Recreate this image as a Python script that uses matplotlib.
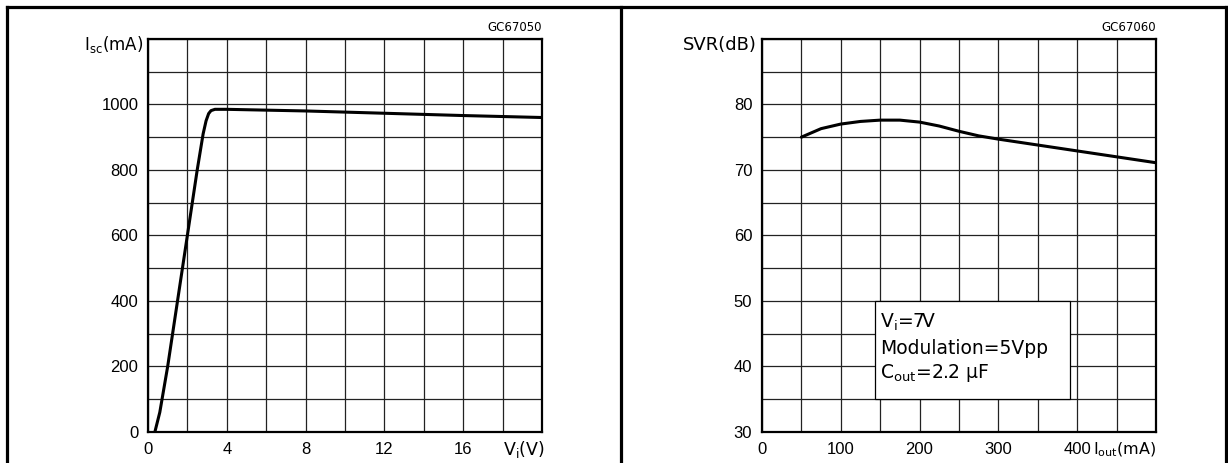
import matplotlib
matplotlib.use('Agg')
import matplotlib.pyplot as plt
from matplotlib.lines import Line2D
from matplotlib.patches import Rectangle

plt.rcParams['font.family'] = ['DejaVu Sans']
plt.rcParams['mathtext.default'] = 'regular'

# left chart: short circuit current vs input voltage
vi = [0.35, 0.6, 1.0, 1.5, 2.0, 2.5, 2.8, 2.95, 3.08, 3.2, 3.4, 4, 8, 12, 16, 20]
isc = [0, 60, 200, 400, 600, 800, 910, 950, 972, 981, 985, 985, 980, 973, 966, 960]
vi_ticks = [0, 4, 8, 12, 16]
isc_ticks = [0, 200, 400, 600, 800, 1000]

# right chart: SVR vs output current
iout = [50, 75, 100, 125, 150, 175, 200, 225, 250, 275, 300, 350, 400, 450, 500]
svr = [75.0, 76.3, 77.0, 77.4, 77.6, 77.6, 77.3, 76.7, 75.9, 75.2, 74.7, 73.8, 72.9, 72.0, 71.1]
iout_ticks = [0, 100, 200, 300, 400]
svr_ticks = [30, 40, 50, 60, 70, 80]

fig = plt.figure(figsize=(12.28, 4.63), dpi=100)

def setup(ax, xmax, xstep, xlabels, ymin, ymax, ystep, ylabels):
	xs = [i * xstep for i in range(int(round(xmax / xstep)) + 1)]
	ys = [ymin + i * ystep for i in range(int(round((ymax - ymin) / ystep)) + 1)]
	ax.set_xlim(0, xmax)
	ax.set_ylim(ymin, ymax)
	ax.set_xticks(xs)
	ax.set_xticklabels([str(v) if v in xlabels else '' for v in xs])
	ax.set_yticks(ys)
	ax.set_yticklabels([str(v) if v in ylabels else '' for v in ys])
	ax.tick_params(length=0, labelsize=12, pad=7)
	for lab in ax.get_xticklabels() + ax.get_yticklabels():
		lab.set_family('Liberation Sans')
	ax.grid(True, color='#222222', linewidth=0.9)
	for s in ax.spines.values():
		s.set_linewidth(1.6)

ax1 = fig.add_axes([0.1205, 0.067, 0.3208, 0.849])
setup(ax1, 20, 2, vi_ticks, 0, 1200, 100, isc_ticks)
ax1.plot(vi, isc, color='black', linewidth=2.2, solid_capstyle='round', solid_joinstyle='round')
ax1.text(-0.012, 0.985, 'I$_{sc}$(mA)', transform=ax1.transAxes, ha='right', va='center', fontsize=12)
ax1.text(1.0, 1.012, 'GC67050', transform=ax1.transAxes, ha='right', va='bottom', fontsize=8.5)
ax1.text(1.008, -0.045, 'V$_{i}$(V)', transform=ax1.transAxes, ha='right', va='center', fontsize=12.5)

ax2 = fig.add_axes([0.6205, 0.067, 0.3208, 0.849])
setup(ax2, 500, 50, iout_ticks, 30, 90, 5, svr_ticks)
ax2.plot(iout, svr, color='black', linewidth=2.2, solid_capstyle='round', solid_joinstyle='round')
ax2.text(-0.012, 0.985, 'SVR(dB)', transform=ax2.transAxes, ha='right', va='center', fontsize=13)
ax2.text(1.0, 1.012, 'GC67060', transform=ax2.transAxes, ha='right', va='bottom', fontsize=8.5)
ax2.text(1.002, -0.045, 'I$_{out}$(mA)', transform=ax2.transAxes, ha='right', va='center', fontsize=11.5)

box = Rectangle((143, 35), 248, 15, facecolor='white', edgecolor='black', linewidth=0.9, zorder=3)
ax2.add_patch(box)
ax2.text(150, 46.8, 'V$_{i}$=7V', fontsize=13.5, va='center', zorder=4)
ax2.text(150, 42.8, 'Modulation=5Vpp', fontsize=13.5, va='center', zorder=4)
ax2.text(150, 39.0, 'C$_{out}$=2.2 μF', fontsize=13.5, va='center', zorder=4)

# outer frame
lw = 2.3
fig.add_artist(Line2D([0.0057, 0.998], [0.985, 0.985], color='black', linewidth=lw))
for xf in [0.0057, 0.5057, 0.998]:
	fig.add_artist(Line2D([xf, xf], [0, 0.985], color='black', linewidth=lw))

plt.savefig('out.png', dpi=100)
